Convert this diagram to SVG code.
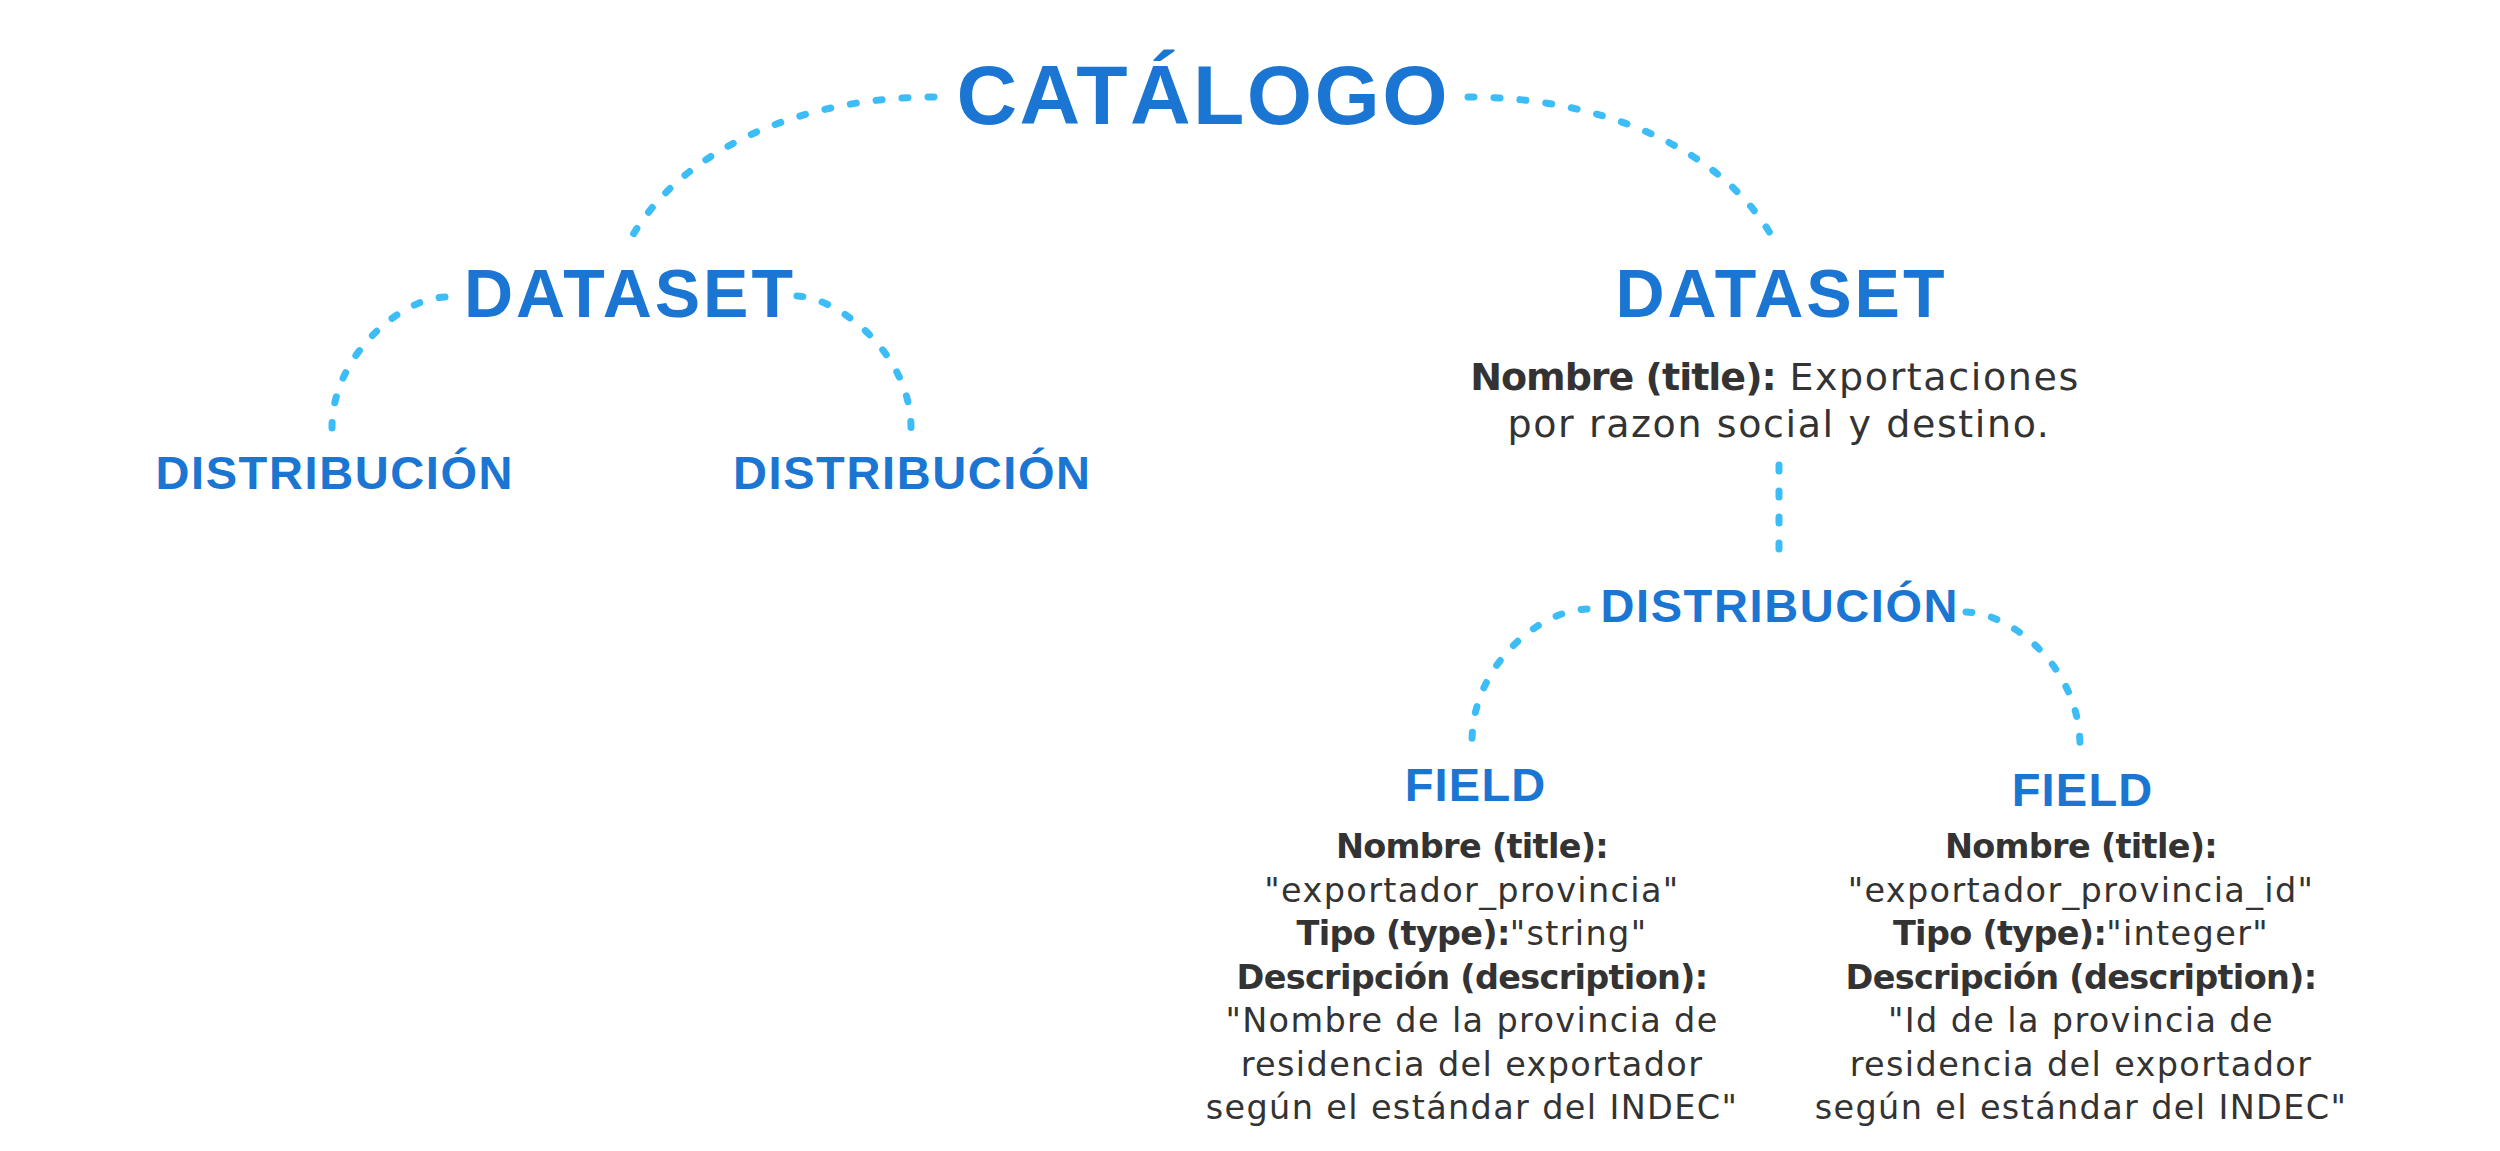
<svg xmlns="http://www.w3.org/2000/svg" width="2500" height="1151" viewBox="0 0 2500 1151">
  <style>
    .h { font-family: "Liberation Sans", Arial, sans-serif; font-weight: bold; fill: #1a76d2; text-anchor: middle; }
    .h1 { font-size: 84px; letter-spacing: 2.4px; }
    .h2 { font-size: 68px; letter-spacing: 3px; }
    .h3 { font-size: 47px; letter-spacing: 1.6px; }
    .h4 { font-size: 47px; letter-spacing: 1.2px; }
    .t { font-family: "DejaVu Sans", sans-serif; fill: #333333; text-anchor: middle; }
    .fs { font-size: 33.5px; }
    .ds { font-size: 38px; }
    .fs .b { font-weight: bold; letter-spacing: -0.7px; }
    .fs .r { letter-spacing: 1.35px; }
    .ds .b { font-weight: bold; letter-spacing: -1px; }
    .ds .r { letter-spacing: 1.6px; }
    .lnk { fill: none; stroke: #3dbdf7; stroke-width: 7; stroke-linecap: round; stroke-dasharray: 6 20; }
  </style>
  <rect width="2500" height="1151" fill="#ffffff"/>

  <!-- dotted connectors -->
  <g id="connectors">
    <path class="lnk" d="M934,97 C800,97 680,150 630,240"/>
    <path class="lnk" d="M1468,97 C1604,97 1724,150 1774,240"/>
    <path class="lnk" d="M445,297 C402,298 332,355 332,428"/>
    <path class="lnk" d="M797,296 C840,298 911,355 911,428"/>
    <path class="lnk" d="M1779,465 V560"/>
    <path class="lnk" d="M1587,609 C1540,610 1472,665 1472,742"/>
    <path class="lnk" d="M1966,612 C2012,613 2080,668 2080,746"/>
  </g>

  <g id="catalogo">
    <text class="h h1" x="1203.2" y="124">CATÁLOGO</text>
  </g>

  <g id="dataset-1">
    <text class="h h2" x="630" y="317">DATASET</text>
  </g>

  <g id="dataset-2">
    <text class="h h2" x="1781.5" y="317">DATASET</text>
    <text class="t ds" x="1775" y="390"><tspan class="b">Nombre (title):</tspan><tspan class="r"> Exportaciones</tspan></text>
    <text class="t ds" x="1779" y="437"><tspan class="r">por razon social y destino.</tspan></text>
  </g>

  <g id="distribucion-1">
    <text class="h h3" x="334.8" y="489">DISTRIBUCIÓN</text>
  </g>

  <g id="distribucion-2">
    <text class="h h3" x="912.3" y="489">DISTRIBUCIÓN</text>
  </g>

  <g id="distribucion-3">
    <text class="h h3" x="1779.8" y="622">DISTRIBUCIÓN</text>
  </g>

  <g id="field-1">
    <text class="h h4" x="1475.6" y="801">FIELD</text>
    <text class="t fs" x="1472" y="858"><tspan class="b">Nombre (title):</tspan></text>
    <text class="t fs" x="1472" y="901.5"><tspan class="r">"exportador_provincia"</tspan></text>
    <text class="t fs" x="1472" y="945"><tspan class="b">Tipo (type):</tspan><tspan class="r">"string"</tspan></text>
    <text class="t fs" x="1472" y="988.5"><tspan class="b">Descripción (description):</tspan></text>
    <text class="t fs" x="1472" y="1032"><tspan class="r">"Nombre de la provincia de</tspan></text>
    <text class="t fs" x="1472" y="1075.5"><tspan class="r">residencia del exportador</tspan></text>
    <text class="t fs" x="1472" y="1119"><tspan class="r">según el estándar del INDEC"</tspan></text>
  </g>

  <g id="field-2">
    <text class="h h4" x="2082.6" y="806">FIELD</text>
    <text class="t fs" x="2081" y="858"><tspan class="b">Nombre (title):</tspan></text>
    <text class="t fs" x="2081" y="901.5"><tspan class="r">"exportador_provincia_id"</tspan></text>
    <text class="t fs" x="2081" y="945"><tspan class="b">Tipo (type):</tspan><tspan class="r">"integer"</tspan></text>
    <text class="t fs" x="2081" y="988.5"><tspan class="b">Descripción (description):</tspan></text>
    <text class="t fs" x="2081" y="1032"><tspan class="r">"Id de la provincia de</tspan></text>
    <text class="t fs" x="2081" y="1075.5"><tspan class="r">residencia del exportador</tspan></text>
    <text class="t fs" x="2081" y="1119"><tspan class="r">según el estándar del INDEC"</tspan></text>
  </g>
</svg>
